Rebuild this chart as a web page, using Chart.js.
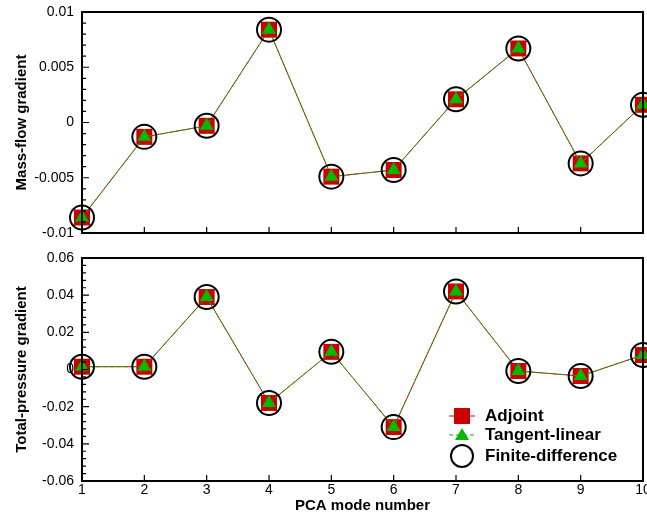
<!DOCTYPE html>
<html>
<head>
<meta charset="utf-8">
<script src="https://cdn.jsdelivr.net/npm/chart.js@4/dist/chart.umd.min.js"></script>
<style>
  html, body { margin: 0; padding: 0; background: #fff; }
  #wrap { position: relative; width: 647px; height: 517px; }
  .pane { position: absolute; left: 0; width: 647px; }
</style>
</head>
<body>
<div id="wrap">
  <div class="pane" style="top:0;height:245px"><canvas id="mass-flow-chart"></canvas></div>
  <div class="pane" style="top:245px;height:272px"><canvas id="pressure-chart"></canvas></div>
</div>
<script>
// PCA modes on the x axis
const modes = ["1", "2", "3", "4", "5", "6", "7", "8", "9", "10"];

// mass-flow gradient (top panel)
const massAdjoint = [-0.0086, -0.0013, -0.0003, 0.0084, -0.0049, -0.0043, 0.0021, 0.0067, -0.0037, 0.0016];
const massTangent = [-0.0086, -0.0013, -0.0003, 0.0084, -0.0049, -0.0043, 0.0021, 0.0067, -0.0037, 0.0016];
const massFD      = [-0.0086, -0.0013, -0.0003, 0.0084, -0.0049, -0.0043, 0.0021, 0.0067, -0.0037, 0.0016];

// total-pressure gradient (bottom panel)
const presAdjoint = [0.0015, 0.0015, 0.039, -0.018, 0.0095, -0.031, 0.042, -0.0008, -0.0035, 0.0078];
const presTangent = [0.0015, 0.0015, 0.039, -0.018, 0.0095, -0.031, 0.042, -0.0008, -0.0035, 0.0078];
const presFD      = [0.0015, 0.0015, 0.039, -0.018, 0.0095, -0.031, 0.042, -0.0008, -0.0035, 0.0078];

const massTicks = { min: -0.01, max: 0.01, step: 0.005 };
const presTicks = { min: -0.06, max: 0.06, step: 0.02 };

const seriesNames = ["Adjoint", "Tangent-linear", "Finite-difference"];

const RED = '#cc0000';
const GREEN = '#00bb00';
const FONT = "'Liberation Sans', Arial, Helvetica, sans-serif";

Chart.defaults.font.family = FONT;
Chart.defaults.color = '#000';
Chart.defaults.animation = false;

// frame box + inward tick marks (major and minor)
const framePlugin = {
  id: 'frame',
  afterDraw(chart) {
    const { ctx, chartArea: a } = chart;
    const xs = chart.scales.x, ys = chart.scales.y;
    ctx.save();
    ctx.strokeStyle = '#000';
    ctx.lineWidth = 1.2;
    ctx.beginPath();
    xs.ticks.forEach((t, i) => {
      const px = xs.getPixelForTick(i);
      ctx.moveTo(px, a.bottom);
      ctx.lineTo(px, a.bottom - 6);
    });
    const vals = ys.ticks.map(t => t.value).sort((p, q) => p - q);
    for (let i = 0; i < vals.length; i++) {
      const py = ys.getPixelForValue(vals[i]);
      ctx.moveTo(a.left, py);
      ctx.lineTo(a.left + 7, py);
      if (i < vals.length - 1) {
        for (let k = 1; k < 5; k++) {
          const v = vals[i] + (vals[i + 1] - vals[i]) * k / 5;
          const pm = ys.getPixelForValue(v);
          ctx.moveTo(a.left, pm);
          ctx.lineTo(a.left + 4, pm);
        }
      }
    }
    ctx.stroke();
    ctx.lineWidth = 2;
    ctx.strokeRect(a.left, a.top, a.right - a.left, a.bottom - a.top);
    ctx.restore();
  }
};

// legend in lower right of the bottom panel
const legendPlugin = {
  id: 'boxLegend',
  afterDraw(chart, args, opts) {
    if (!opts.show) return;
    const { ctx, chartArea: a } = chart;
    const mx = a.right - 181, tx = a.right - 158;
    const rows = [a.bottom - 65, a.bottom - 46, a.bottom - 25];
    ctx.save();
    // Adjoint: red line + square
    ctx.strokeStyle = RED; ctx.lineWidth = 1;
    ctx.beginPath(); ctx.moveTo(mx - 13, rows[0]); ctx.lineTo(mx + 13, rows[0]); ctx.stroke();
    ctx.fillStyle = RED;
    ctx.fillRect(mx - 8, rows[0] - 8, 16, 16);
    // Tangent-linear: green dashed + triangle
    ctx.strokeStyle = GREEN; ctx.setLineDash([4, 3]);
    ctx.beginPath(); ctx.moveTo(mx - 13, rows[1]); ctx.lineTo(mx + 13, rows[1]); ctx.stroke();
    ctx.setLineDash([]);
    ctx.fillStyle = GREEN;
    ctx.beginPath();
    ctx.moveTo(mx, rows[1] - 7); ctx.lineTo(mx + 7, rows[1] + 5); ctx.lineTo(mx - 7, rows[1] + 5);
    ctx.closePath(); ctx.fill();
    // Finite-difference: circle
    ctx.strokeStyle = '#000'; ctx.lineWidth = 2;
    ctx.beginPath(); ctx.arc(mx, rows[2], 11, 0, Math.PI * 2); ctx.stroke();
    ctx.fillStyle = '#000';
    ctx.font = "bold 17px " + FONT;
    ctx.textBaseline = 'middle';
    seriesNames.forEach((n, i) => ctx.fillText(n, tx, rows[i]));
    ctx.restore();
  }
};

function fmt(v) {
  return String(+v.toFixed(4));
}

function makeDatasets(adj, tan, fd) {
  return [
    {
      label: seriesNames[2], data: fd, showLine: false, clip: false,
      pointStyle: 'circle', pointRadius: 12, pointBorderWidth: 2,
      pointBorderColor: '#000', pointBackgroundColor: 'rgba(0,0,0,0)'
    },
    {
      label: seriesNames[1], data: tan, clip: false,
      borderColor: GREEN, borderWidth: 1, borderDash: [4, 3], tension: 0,
      pointStyle: 'triangle', pointRadius: 8, pointBorderWidth: 0,
      pointBackgroundColor: GREEN, pointBorderColor: GREEN
    },
    {
      label: seriesNames[0], data: adj, clip: false,
      borderColor: RED, borderWidth: 1, tension: 0,
      pointStyle: 'rect', pointRadius: 11.3, pointBorderWidth: 0,
      pointBackgroundColor: RED, pointBorderColor: RED
    }
  ];
}

function makeChart(canvasId, adj, tan, fd, range, yTitle, bottomPanel) {
  return new Chart(document.getElementById(canvasId), {
    type: 'line',
    data: { labels: modes, datasets: makeDatasets(adj, tan, fd) },
    plugins: [framePlugin, legendPlugin],
    options: {
      responsive: true,
      maintainAspectRatio: false,
      layout: { autoPadding: false, padding: { top: bottomPanel ? 13 : 12, right: 4, left: 0, bottom: 0 } },
      plugins: {
        legend: { display: false },
        tooltip: { enabled: false },
        boxLegend: { show: bottomPanel }
      },
      scales: {
        x: {
          type: 'category',
          offset: false,
          grid: { display: false, drawTicks: false },
          border: { display: false },
          ticks: { display: bottomPanel, padding: 1, maxRotation: 0, autoSkip: false, font: { size: 14 } },
          title: {
            display: bottomPanel, text: 'PCA mode number',
            font: { size: 15, weight: 'bold' }, padding: { top: 0, bottom: 2 }
          },
          afterFit(s) { s.height = bottomPanel ? 36 : 12; s.paddingLeft = 0; s.paddingRight = 0; }
        },
        y: {
          min: range.min, max: range.max,
          grid: { display: false, drawTicks: false },
          border: { display: false },
          ticks: { stepSize: range.step, padding: 8, font: { size: 14 }, callback: v => fmt(v) },
          title: {
            display: true, text: yTitle,
            font: { size: 15, weight: 'bold' }, padding: { top: 13, bottom: 0 }
          },
          afterFit(s) { s.width = 82; s.paddingTop = 0; s.paddingBottom = 0; }
        }
      }
    }
  });
}

makeChart('mass-flow-chart', massAdjoint, massTangent, massFD, massTicks, 'Mass-flow gradient', false);
makeChart('pressure-chart', presAdjoint, presTangent, presFD, presTicks, 'Total-pressure gradient', true);
</script>
</body>
</html>
